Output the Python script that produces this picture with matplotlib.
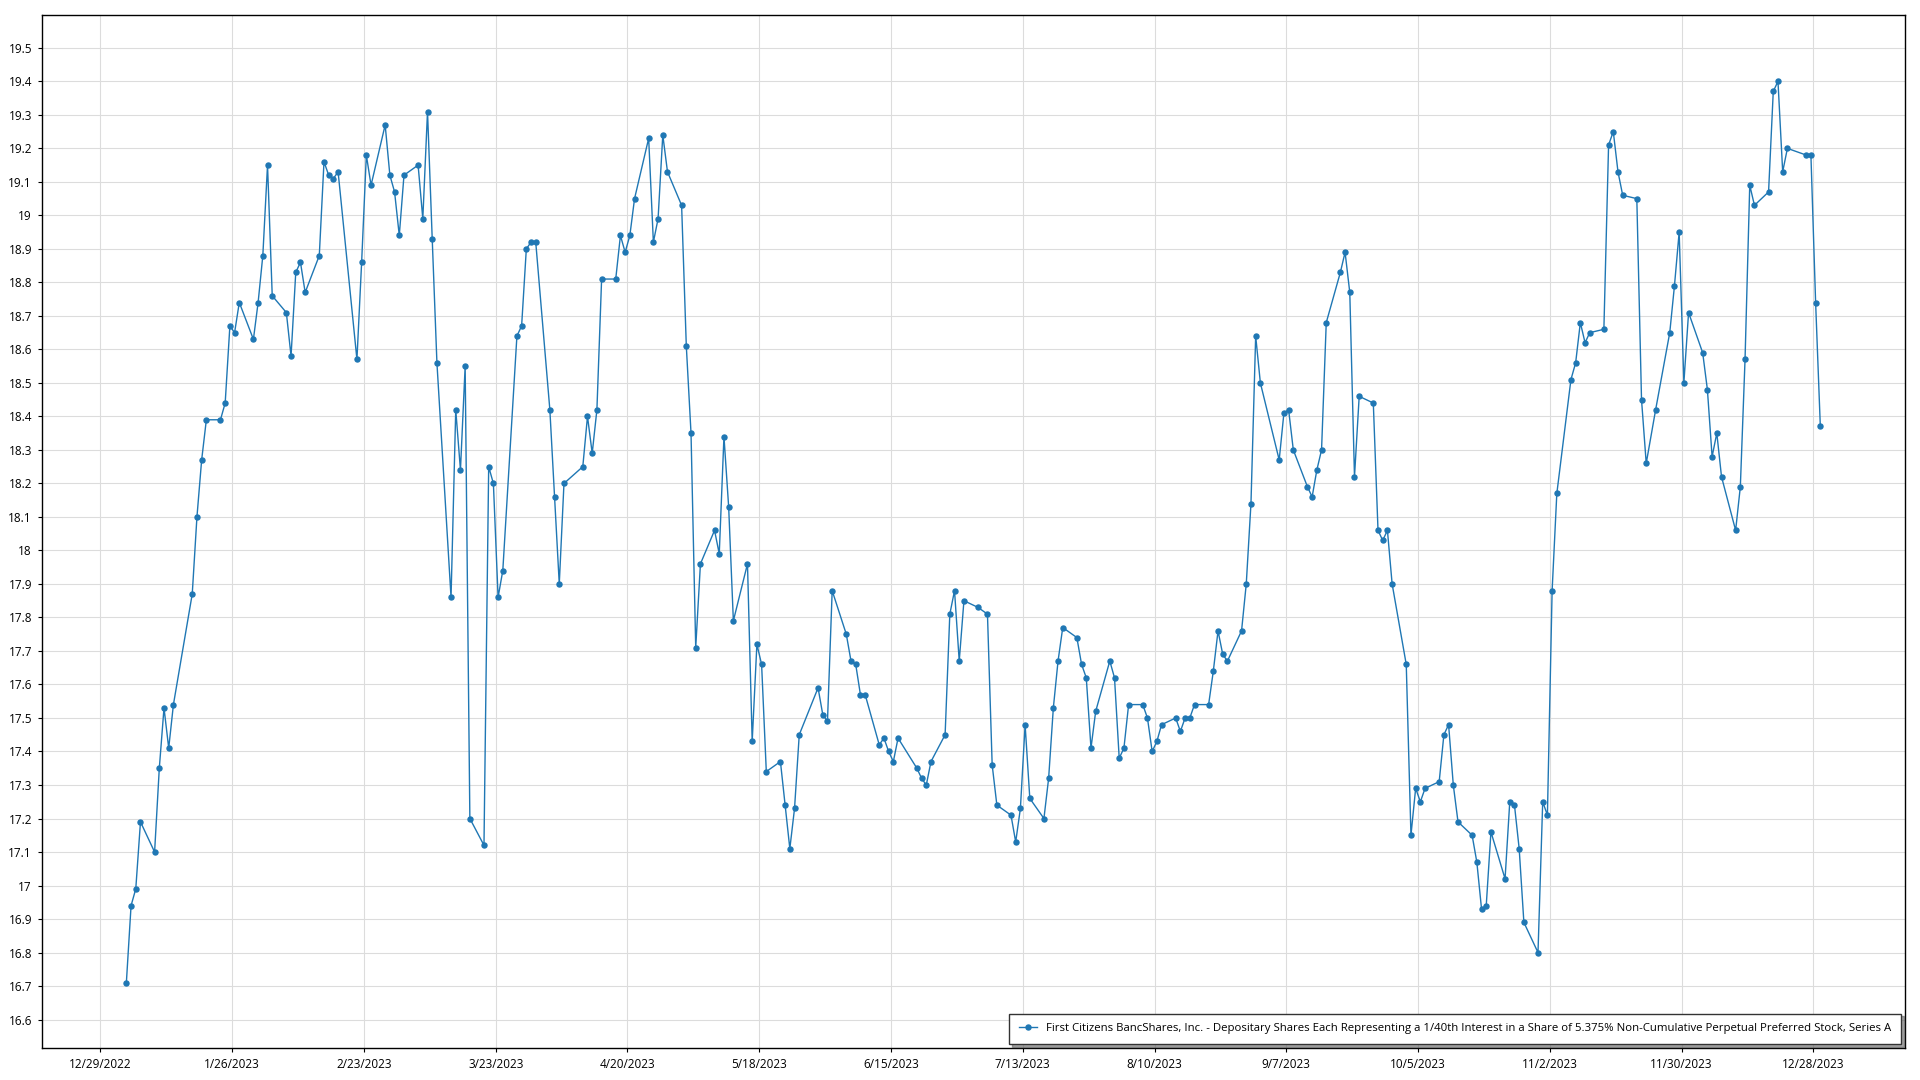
import pandas as pd
import matplotlib
matplotlib.use("Agg")
import matplotlib.pyplot as plt
from matplotlib.ticker import MultipleLocator, FuncFormatter

plt.rcParams['font.family'] = ['Open Sans', 'DejaVu Sans']

series_name = ("First Citizens BancShares, Inc. - Depositary Shares Each Representing a 1/40th "
               "Interest in a Share of 5.375% Non-Cumulative Perpetual Preferred Stock, Series A")

# NYSE closures in 2023 (trading calendar for the x values)
holidays_2023 = ['2023-01-16', '2023-02-20', '2023-04-07', '2023-05-29', '2023-06-19',
                 '2023-07-04', '2023-09-04', '2023-11-23', '2023-12-25']

# closing prices, one list per month
jan = [16.71, 16.94, 16.99, 17.19, 17.10, 17.35, 17.53, 17.41, 17.54, 17.87,
       18.10, 18.27, 18.39, 18.39, 18.44, 18.67, 18.65, 18.74, 18.63, 18.74]
feb = [18.88, 19.15, 18.76, 18.71, 18.58, 18.83, 18.86, 18.77, 18.88, 19.16,
       19.12, 19.11, 19.13, 18.57, 18.86, 19.18, 19.09, 19.27, 19.12]
mar = [19.07, 18.94, 19.12, 19.15, 18.99, 19.31, 18.93, 18.56, 17.86, 18.42,
       18.24, 18.55, 17.20, 17.12, 18.25, 18.20, 17.86, 17.94, 18.64, 18.67,
       18.90, 18.92, 18.92]
apr = [18.42, 18.16, 17.90, 18.20, 18.25, 18.40, 18.29, 18.42, 18.81, 18.81,
       18.94, 18.89, 18.94, 19.05, 19.23, 18.92, 18.99, 19.24, 19.13]
may = [19.03, 18.61, 18.35, 17.71, 17.96, 18.06, 17.99, 18.34, 18.13, 17.79,
       17.96, 17.43, 17.72, 17.66, 17.34, 17.37, 17.24, 17.11, 17.23, 17.45,
       17.59, 17.51]
jun = [17.49, 17.88, 17.75, 17.67, 17.66, 17.57, 17.57, 17.42, 17.44, 17.40,
       17.37, 17.44, 17.35, 17.32, 17.30, 17.37, 17.45, 17.81, 17.88, 17.67,
       17.85]
jul = [17.83, 17.81, 17.36, 17.24, 17.21, 17.13, 17.23, 17.48, 17.26, 17.20,
       17.32, 17.53, 17.67, 17.77, 17.74, 17.66, 17.62, 17.41, 17.52, 17.67]
aug = [17.62, 17.38, 17.41, 17.54, 17.54, 17.50, 17.40, 17.43, 17.48, 17.50,
       17.46, 17.50, 17.50, 17.54, 17.54, 17.64, 17.76, 17.69, 17.67, 17.76,
       17.90, 18.14, 18.64]
sep = [18.50, 18.27, 18.41, 18.42, 18.30, 18.19, 18.16, 18.24, 18.30, 18.68,
       18.83, 18.89, 18.77, 18.22, 18.46, 18.44, 18.06, 18.03, 18.06, 17.90]
oct_ = [17.66, 17.15, 17.29, 17.25, 17.29, 17.31, 17.45, 17.48, 17.30, 17.19,
        17.15, 17.07, 16.93, 16.94, 17.16, 17.02, 17.25, 17.24, 17.11, 16.89,
        16.80, 17.25]
nov = [17.21, 17.88, 18.17, 18.51, 18.56, 18.68, 18.62, 18.65, 18.66, 19.21,
       19.25, 19.13, 19.06, 19.05, 18.45, 18.26, 18.42, 18.65, 18.79, 18.95,
       18.50]
dec = [18.71, 18.59, 18.48, 18.28, 18.35, 18.22, 18.06, 18.19, 18.57, 19.09,
       19.03, 19.07, 19.37, 19.40, 19.13, 19.20, 19.18, 19.18, 18.74, 18.37]

prices = jan + feb + mar + apr + may + jun + jul + aug + sep + oct_ + nov + dec
dates = pd.bdate_range('2023-01-03', '2023-12-29', freq='C', holidays=holidays_2023)
# the chart puts each point at the middle of its day
dates = dates + pd.Timedelta(hours=12)

tick_dates = pd.date_range('2022-12-29', periods=14, freq='28D')
tick_labels = [f"{d.month}/{d.day}/{d.year}" for d in tick_dates]

fig = plt.figure(figsize=(19.2, 10.8), dpi=100)
ax = fig.add_axes([0.0217, 0.0296, 0.9705, 0.9565])

ax.plot(dates, prices, color='#1f77b4', lw=1.0, marker='o', ms=3.6,
        label=series_name)

ax.set_xticks(tick_dates)
ax.set_xticklabels(tick_labels)
ax.set_xlim(pd.Timestamp('2022-12-16 12:00'), pd.Timestamp('2024-01-16 12:00'))
ax.set_ylim(16.515, 19.598)
ax.yaxis.set_major_locator(MultipleLocator(0.1))
ax.yaxis.set_major_formatter(FuncFormatter(lambda v, p: f"{round(v, 1):g}"))

ax.grid(True, color='#dcdcdc', lw=0.8)
ax.set_axisbelow(True)
ax.tick_params(axis='both', labelsize=8.5, length=3, color='black', pad=4)
for s in ax.spines.values():
    s.set_color('black')
    s.set_linewidth(1.0)

leg = ax.legend(loc='lower right', fontsize=8.2, frameon=True, fancybox=False,
                shadow=True, edgecolor='#333333', borderaxespad=0.35,
                handlelength=1.6, borderpad=0.85)
leg.get_frame().set_linewidth(1.0)

fig.savefig('out.png', dpi=100)
